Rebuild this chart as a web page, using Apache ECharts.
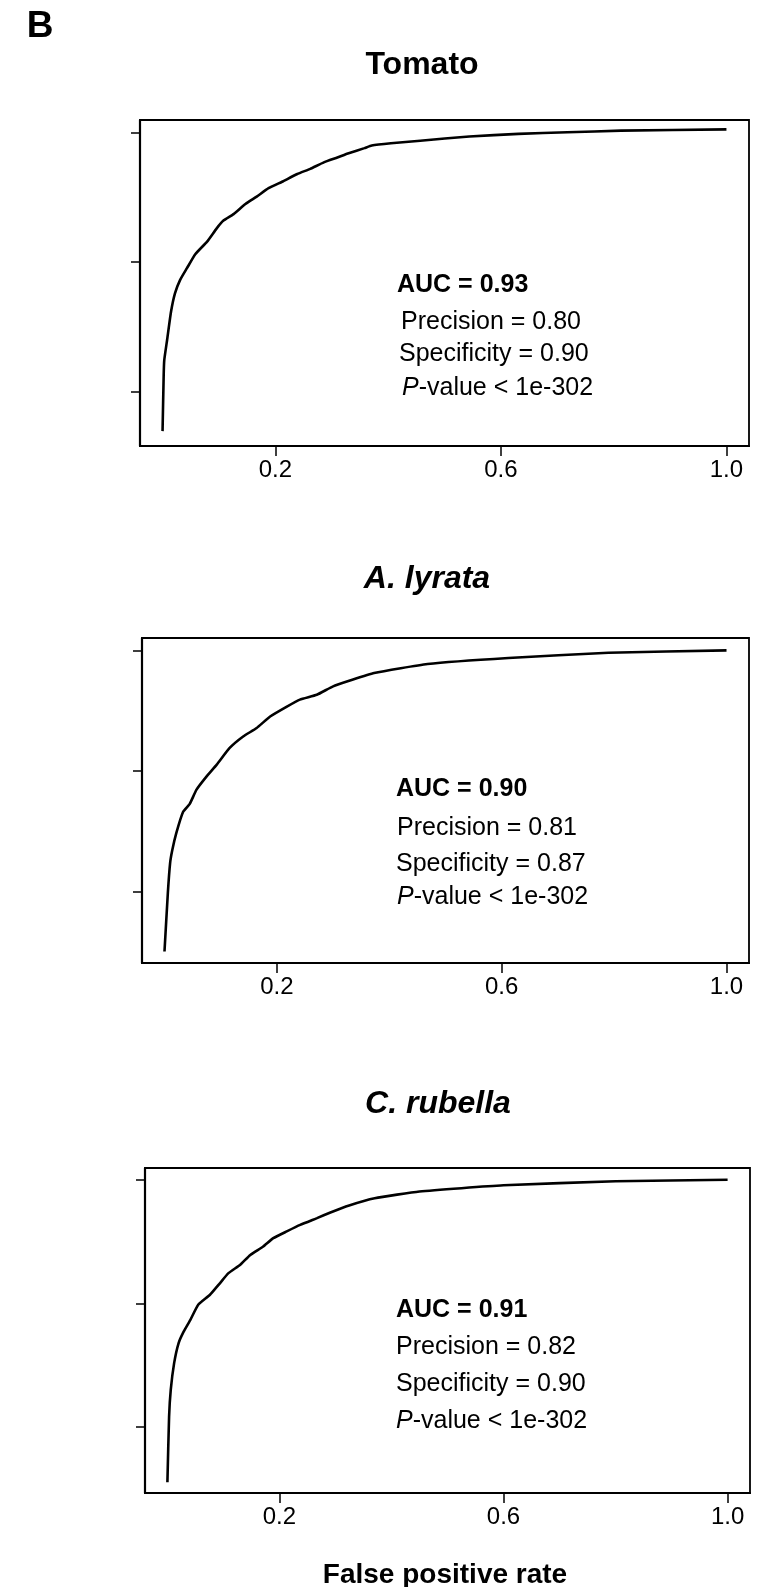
<!DOCTYPE html>
<html>
<head>
<meta charset="utf-8">
<script src="https://cdn.jsdelivr.net/npm/echarts@6/dist/echarts.min.js"></script>
<style>
  html, body { margin: 0; padding: 0; background: #fff; }
  #chart { width: 767px; height: 1587px; }
</style>
</head>
<body>
<div id="chart"></div>
<script>
// ROC curves (false positive rate / true positive rate)
var tomatoFpr = [0.000, 0.002, 0.003, 0.008, 0.015, 0.022, 0.031, 0.043, 0.058, 0.079, 0.096, 0.108, 0.126, 0.147, 0.167, 0.188, 0.212, 0.239, 0.262, 0.286, 0.310, 0.330, 0.358, 0.371, 0.405, 0.457, 0.544, 0.631, 0.718, 0.813, 1.000];
var tomatoTpr = [0.077, 0.250, 0.296, 0.358, 0.446, 0.503, 0.544, 0.580, 0.624, 0.663, 0.704, 0.728, 0.748, 0.779, 0.802, 0.828, 0.848, 0.872, 0.888, 0.908, 0.923, 0.936, 0.952, 0.960, 0.967, 0.975, 0.988, 0.996, 1.001, 1.006, 1.010];

var lyrataFpr = [0.000, 0.006, 0.010, 0.014, 0.021, 0.033, 0.045, 0.057, 0.075, 0.093, 0.116, 0.140, 0.164, 0.188, 0.217, 0.241, 0.271, 0.300, 0.330, 0.373, 0.468, 0.612, 0.790, 1.000];
var lyrataTpr = [0.003, 0.197, 0.296, 0.340, 0.395, 0.465, 0.492, 0.539, 0.583, 0.622, 0.677, 0.715, 0.743, 0.781, 0.813, 0.837, 0.853, 0.881, 0.900, 0.925, 0.955, 0.975, 0.992, 1.000];

var rubellaFpr = [0.000, 0.003, 0.006, 0.012, 0.020, 0.029, 0.041, 0.055, 0.076, 0.094, 0.109, 0.130, 0.148, 0.171, 0.189, 0.213, 0.237, 0.267, 0.291, 0.323, 0.370, 0.450, 0.600, 0.800, 1.000];
var rubellaTpr = [0.022, 0.234, 0.321, 0.407, 0.472, 0.509, 0.547, 0.596, 0.628, 0.666, 0.698, 0.725, 0.757, 0.784, 0.811, 0.833, 0.854, 0.876, 0.894, 0.916, 0.940, 0.962, 0.982, 0.995, 1.000];

var xTicks = [0.2, 0.6, 1.0];
var yTicks = [0.2, 0.6, 1.0];

var panelTitles = ["Tomato", "A. lyrata", "C. rubella"];
var aucText = ["AUC = 0.93", "AUC = 0.90", "AUC = 0.91"];
var precisionText = ["Precision = 0.80", "Precision = 0.81", "Precision = 0.82"];
var specificityText = ["Specificity = 0.90", "Specificity = 0.87", "Specificity = 0.90"];
var pvalueText = ["{i|P}-value < 1e-302", "{i|P}-value < 1e-302", "{i|P}-value < 1e-302"];
var xAxisName = "False positive rate";

var FONT = "'Liberation Sans', Arial, sans-serif";

var myChart = echarts.init(document.getElementById("chart"), null, { renderer: "canvas" });

// box geometry of each panel (px)
var grids = [
  { left: 140, top: 120, width: 609, height: 326, yMin: 0.031, yMax: 1.039 },
  { left: 142, top: 638, width: 607, height: 325, yMin: -0.035, yMax: 1.041 },
  { left: 145, top: 1168, width: 605, height: 325, yMin: -0.013, yMax: 1.038 }
];

var seriesX = [tomatoFpr, lyrataFpr, rubellaFpr];
var seriesY = [tomatoTpr, lyrataTpr, rubellaTpr];

var gridOpt = [], xAxisOpt = [], yAxisOpt = [], seriesOpt = [];
for (var i = 0; i < grids.length; i++) {
  var g = grids[i];
  gridOpt.push({
    left: g.left, top: g.top, width: g.width, height: g.height,
    show: true, borderColor: "#000", borderWidth: 1.8, backgroundColor: "#fff"
  });
  xAxisOpt.push({
    type: "value", gridIndex: i, min: -0.04, max: 1.04,
    axisLine: { show: true, onZero: false, lineStyle: { color: "#000", width: 2.2 } },
    axisTick: { show: true, inside: false, length: 10, customValues: xTicks, lineStyle: { color: "#000", width: 1.5 } },
    axisLabel: { show: true, customValues: xTicks, margin: 12, color: "#000", fontSize: 24, fontFamily: FONT,
      formatter: function (v) { return v.toFixed(1); } },
    splitLine: { show: false }
  });
  yAxisOpt.push({
    type: "value", gridIndex: i, min: g.yMin, max: g.yMax,
    axisLine: { show: true, onZero: false, lineStyle: { color: "#000", width: 2.2 } },
    axisTick: { show: true, inside: false, length: 9, customValues: yTicks, lineStyle: { color: "#000", width: 1.5 } },
    axisLabel: { show: false },
    splitLine: { show: false }
  });
  var pts = [];
  for (var k = 0; k < seriesX[i].length; k++) pts.push([seriesX[i][k], seriesY[i][k]]);
  seriesOpt.push({
    type: "line", xAxisIndex: i, yAxisIndex: i, data: pts,
    showSymbol: false, symbol: "none", smooth: 0.15, silent: true,
    lineStyle: { color: "#000", width: 2.6 }
  });
}

// text positions (px)
var titlePos = [[422, 65], [427, 579], [438, 1104]];
var statPos = [
  [[397, 285], [401, 322], [399, 354], [402, 388]],
  [[396, 789], [397, 828], [396, 864], [397, 897]],
  [[396, 1310], [396, 1347], [396, 1384], [396, 1421]]
];

var graphics = [
  { type: "text", x: 40, y: 27, style: { text: "B", font: "bold 37px " + FONT, fill: "#000", align: "center", verticalAlign: "middle" } },
  { type: "text", x: 445, y: 1575, style: { text: xAxisName, font: "bold 28px " + FONT, fill: "#000", align: "center", verticalAlign: "middle" } }
];
for (var j = 0; j < 3; j++) {
  graphics.push({ type: "text", x: titlePos[j][0], y: titlePos[j][1],
    style: { text: panelTitles[j], font: (j === 0 ? "bold " : "italic bold ") + "32px " + FONT, fill: "#000", align: "center", verticalAlign: "middle" } });
  graphics.push({ type: "text", x: statPos[j][0][0], y: statPos[j][0][1],
    style: { text: aucText[j], font: "bold 25px " + FONT, fill: "#000", align: "left", verticalAlign: "middle" } });
  graphics.push({ type: "text", x: statPos[j][1][0], y: statPos[j][1][1],
    style: { text: precisionText[j], font: "25px " + FONT, fill: "#000", align: "left", verticalAlign: "middle" } });
  graphics.push({ type: "text", x: statPos[j][2][0], y: statPos[j][2][1],
    style: { text: specificityText[j], font: "25px " + FONT, fill: "#000", align: "left", verticalAlign: "middle" } });
  graphics.push({ type: "text", x: statPos[j][3][0], y: statPos[j][3][1],
    style: { text: pvalueText[j], fontSize: 25, fontFamily: FONT, fill: "#000", align: "left", verticalAlign: "middle",
      rich: { i: { fontStyle: "italic", fontSize: 25, fontFamily: FONT, fill: "#000" } } } });
}

var option = {
  animation: false,
  backgroundColor: "#fff",
  grid: gridOpt,
  xAxis: xAxisOpt,
  yAxis: yAxisOpt,
  series: seriesOpt,
  graphic: graphics
};
myChart.setOption(option);
</script>
</body>
</html>
